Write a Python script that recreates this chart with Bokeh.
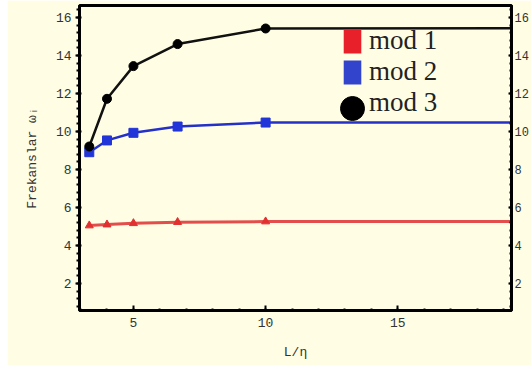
from bokeh.plotting import figure
from bokeh.models import LinearAxis, Legend, LegendItem, Range1d, SingleIntervalTicker
from bokeh.embed import file_html
from bokeh.resources import INLINE

# ---- data ----
L_eta = [3.33, 4.0, 5.0, 6.67, 10.0]
mod1 = [5.05, 5.10, 5.17, 5.23, 5.26]
mod2 = [8.91, 9.53, 9.93, 10.26, 10.47]
mod3 = [9.21, 11.72, 13.44, 14.60, 15.42]
# limiting (large L/eta) values the curves level off to
L_far = 20.0
mod1_inf = 5.27
mod2_inf = 10.48
mod3_inf = 15.44
labels = ["mod 1", "mod 2", "mod 3"]

BG = "#FFFEE4"
MONO = "Liberation Mono"

p = figure(width=524, height=365, output_backend="svg", toolbar_location=None,
           x_range=Range1d(2.96, 19.3), y_range=Range1d(0.58, 16.63),
           min_border_left=72, min_border_right=18, min_border_top=5, min_border_bottom=55,
           background_fill_color=BG, border_fill_color=BG, margin=(0, 0, 0, 7))
p.grid.visible = False
p.outline_line_color = "black"
p.outline_line_width = 3

# lines (with flat continuation)
line_x = L_eta + [L_far]
p.line(line_x, mod1 + [mod1_inf], line_color="#E03A3A", line_width=3, line_alpha=0.9)
p.line(line_x, mod2 + [mod2_inf], line_color="#2430C8", line_width=2.5)
p.line(line_x, mod3 + [mod3_inf], line_color="#111111", line_width=2.5)

p.scatter(L_eta, mod1, marker="triangle", size=8, fill_color="#E03030", line_color="#E03030")
p.scatter(L_eta, mod2, marker="square", size=9, fill_color="#2235D8", line_color="#2235D8")
p.scatter(L_eta, mod3, marker="circle", size=9, fill_color="black", line_color="black")

# axes styling
for ax in [p.xaxis[0], p.yaxis[0]]:
    ax.axis_line_width = 3
    ax.major_tick_line_width = 2
    ax.minor_tick_line_width = 2
    ax.major_label_text_font = MONO
    ax.major_label_text_font_size = "13px"
    ax.major_label_text_color = "#333333"
    ax.axis_label_text_font = MONO
    ax.axis_label_text_font_size = "13px"
    ax.axis_label_text_font_style = "normal"
    ax.axis_label_text_color = "#333333"

p.xaxis[0].ticker = SingleIntervalTicker(interval=5, num_minor_ticks=5)
p.xaxis[0].major_tick_in = 5
p.xaxis[0].major_tick_out = 0
p.xaxis[0].minor_tick_in = 2
p.xaxis[0].minor_tick_out = 0
p.xaxis[0].major_label_standoff = 7
p.xaxis[0].axis_label = "L/η"
p.xaxis[0].axis_label_standoff = 15

p.yaxis[0].ticker = SingleIntervalTicker(interval=2, num_minor_ticks=5)
p.yaxis[0].major_tick_in = 2
p.yaxis[0].major_tick_out = 4
p.yaxis[0].minor_tick_in = 1
p.yaxis[0].minor_tick_out = 3
p.yaxis[0].major_label_standoff = 4
p.yaxis[0].axis_label = "Frekanslar ωᵢ"
p.yaxis[0].axis_label_standoff = 13

ra = LinearAxis(ticker=SingleIntervalTicker(interval=2, num_minor_ticks=5))
ra.axis_line_width = 3
ra.major_tick_line_width = 2
ra.minor_tick_line_width = 2
ra.major_tick_in = 3
ra.major_tick_out = 0
ra.minor_tick_in = 2
ra.minor_tick_out = 0
ra.major_label_standoff = 3
ra.major_label_text_font = MONO
ra.major_label_text_font_size = "12px"
ra.major_label_text_color = "#333333"
p.add_layout(ra, "right")

# legend swatches (zero-size renderers so only the legend shows them)
lq1 = p.quad(left=[L_eta[0]], right=[L_eta[0]], top=[mod1[0]], bottom=[mod1[0]],
             fill_color="#E8202A", line_color=None)
lq2 = p.quad(left=[L_eta[0]], right=[L_eta[0]], top=[mod2[0]], bottom=[mod2[0]],
             fill_color="#3344CC", line_color=None)
lq3 = p.quad(left=[L_eta[0]], right=[L_eta[0]], top=[mod3[0]], bottom=[mod3[0]],
             fill_alpha=0, line_alpha=0)
lc = p.scatter([L_eta[0]], [mod3[0]], marker="circle", size=0,
               fill_color="black", line_color="black")

leg1 = Legend(items=[LegendItem(label=labels[0], renderers=[lq1]),
                     LegendItem(label=labels[1], renderers=[lq2]),
                     LegendItem(label=labels[2], renderers=[lq3])],
              location=(262, 192), glyph_width=22, glyph_height=30, spacing=0,
              label_standoff=6, padding=0, margin=0,
              label_text_font="Liberation Serif", label_text_font_size="27px",
              label_text_color="#222222",
              background_fill_alpha=0, border_line_alpha=0)
leg2 = Legend(items=[LegendItem(label=" ", renderers=[lc])],
              location=(243, 172), glyph_width=60, glyph_height=60,
              padding=0, margin=0, background_fill_alpha=0, border_line_alpha=0)
p.add_layout(leg1)
p.add_layout(leg2)

open("out.html", "w").write(file_html(p, INLINE))
